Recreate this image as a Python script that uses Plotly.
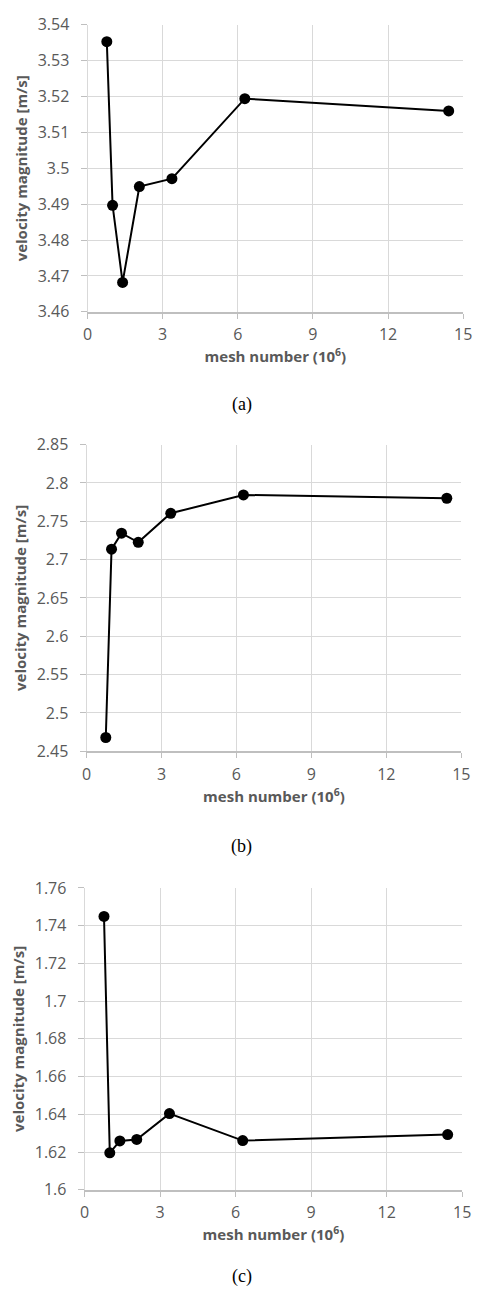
import plotly.graph_objects as go

mesh_number = [0.77, 1.0, 1.4, 2.07, 3.37, 6.28, 14.42]
velocity_a = [3.5353, 3.4897, 3.4682, 3.4949, 3.4971, 3.5194, 3.5160]
velocity_b = [2.4680, 2.7136, 2.7344, 2.7225, 2.7604, 2.7843, 2.7800]
velocity_c = [1.7449, 1.6196, 1.6259, 1.6267, 1.6404, 1.6261, 1.6293]
captions = ["(a)", "(b)", "(c)"]
x_title = "mesh number (10<sup>6</sup>)"
y_title = "velocity magnitude [m/s]"

W, H = 480, 1306
GRAY = "#595959"
GRID = "#d9d9d9"
AXIS = "#bfbfbf"
TICKFONT = dict(family="Open Sans", size=16, color=GRAY)
TITLEFONT = dict(family="Open Sans", size=15, color=GRAY, weight="bold")

# panel boxes in pixels: (left, right, top, bottom)
boxes = [(85, 472, 14, 306), (84, 470, 441, 753), (82, 471, 892, 1199)]
yranges = [(3.46, 3.54, 0.01), (2.45, 2.85, 0.05), (1.60, 1.76, 0.02)]
caption_y = [400, 850, 1287]
series = [velocity_a, velocity_b, velocity_c]

fig = go.Figure()
annotations = []
for i, (box, yr, ser) in enumerate(zip(boxes, yranges, series)):
    l, r, t, b = box
    sfx = "" if i == 0 else str(i + 1)
    fig.add_trace(go.Scatter(
        x=mesh_number, y=ser, mode="lines+markers",
        xaxis="x" + sfx, yaxis="y" + sfx,
        line=dict(color="black", width=2),
        marker=dict(color="black", size=11),
        showlegend=False, cliponaxis=False,
    ))
    fig.update_layout(**{
        "xaxis" + sfx: dict(
            domain=[l / W, r / W], anchor="y" + sfx,
            range=[0, 15], dtick=3, tick0=0,
            showgrid=True, gridcolor=GRID, gridwidth=1,
            showline=True, linecolor=AXIS, linewidth=2,
            ticks="outside", ticklen=5, tickcolor=AXIS, tickwidth=1,
            tickfont=TICKFONT, ticklabelstandoff=2,
            zeroline=False, mirror=False,
            title=dict(text=x_title, font=TITLEFONT, standoff=6),
        ),
        "yaxis" + sfx: dict(
            domain=[1 - b / H, 1 - t / H], anchor="x" + sfx,
            range=[yr[0], yr[1]], dtick=yr[2], tick0=yr[0],
            showgrid=True, gridcolor=GRID, gridwidth=1,
            showline=True, linecolor=GRID, linewidth=1,
            ticks="outside", ticklen=6, tickcolor=AXIS, tickwidth=1,
            tickfont=TICKFONT, ticklabelstandoff=8,
            zeroline=False,
            title=dict(text=y_title, font=TITLEFONT, standoff=6),
        ),
    })
    annotations.append(dict(
        text=captions[i], xref="paper", yref="paper",
        x=244 / W, y=1 - caption_y[i] / H,
        showarrow=False, font=dict(family="Liberation Serif", size=18, color="black"),
        xanchor="center", yanchor="middle",
    ))

fig.update_layout(
    width=W, height=H,
    margin=dict(l=0, r=0, t=0, b=0),
    paper_bgcolor="white", plot_bgcolor="white",
    annotations=annotations,
)
fig.write_html("out.html")
